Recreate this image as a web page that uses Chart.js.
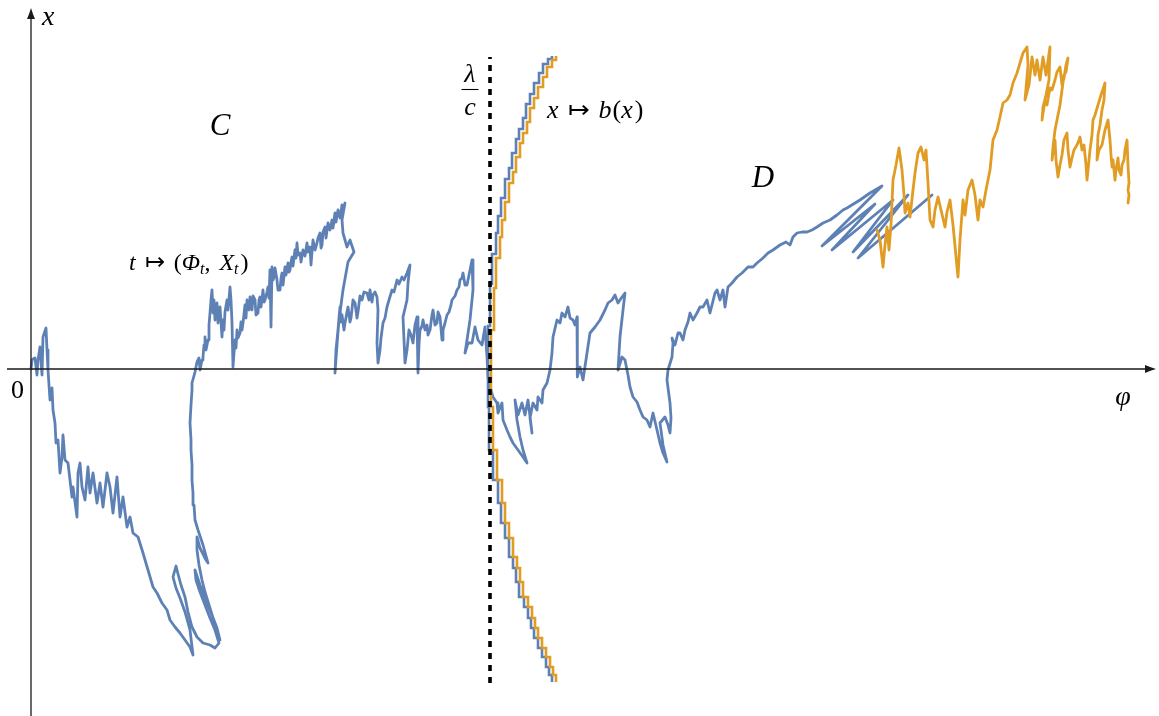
<!DOCTYPE html>
<html>
<head>
<meta charset="utf-8">
<script src="https://cdn.jsdelivr.net/npm/chart.js@4.4.0/dist/chart.umd.min.js"></script>
<style>
  html, body { margin: 0; padding: 0; background: #fff; overflow: hidden; }
  canvas { display: block; }
</style>
</head>
<body>
<canvas id="c" width="1159" height="716"></canvas>
<script>
// Sample path t -> (Phi_t, X_t), pairs [phi, x]; first stretch (blue)
const pathBlue = [
  [0.00,0.00],[0.01,0.09],[0.02,0.10],[0.04,0.11],[0.06,-0.06],[0.07,0.09],[0.09,0.22],[0.11,-0.06],
  [0.12,0.32],[0.15,0.41],[0.16,0.19],[0.17,-0.01],[0.19,-0.31],[0.21,-0.19],[0.22,-0.41],[0.24,-0.54],
  [0.25,-0.74],[0.27,-0.71],[0.29,-1.04],[0.31,-0.88],[0.32,-0.66],[0.34,-0.91],[0.37,-0.94],[0.41,-1.28],
  [0.42,-1.18],[0.46,-1.48],[0.47,-1.04],[0.49,-0.94],[0.51,-1.18],[0.54,-1.31],[0.57,-0.98],[0.59,-1.24],
  [0.62,-1.04],[0.66,-1.34],[0.69,-1.14],[0.72,-1.38],[0.76,-1.04],[0.79,-1.18],[0.82,-1.44],[0.86,-1.08],
  [0.89,-1.48],[0.92,-1.28],[0.96,-1.58],[0.99,-1.48],[1.02,-1.64],[1.07,-1.68],[1.12,-1.84],[1.17,-2.01],
  [1.22,-2.18],[1.26,-2.24],[1.31,-2.34],[1.36,-2.41],[1.39,-2.51],[1.44,-2.58],[1.49,-2.64],[1.54,-2.71],
  [1.59,-2.78],[1.62,-2.86],
  [1.59,-2.61],[1.54,-2.43],[1.49,-2.29],[1.45,-2.19],[1.42,-2.08],[1.45,-1.97],[1.47,-2.05],[1.50,-2.16],
  [1.54,-2.28],[1.57,-2.43],[1.61,-2.58],[1.66,-2.68],[1.72,-2.74],[1.79,-2.76],[1.84,-2.79],[1.88,-2.74],
  [1.84,-2.61],[1.79,-2.49],[1.74,-2.36],[1.69,-2.23],[1.65,-2.11],[1.64,-2.01],[1.69,-2.16],[1.75,-2.31],
  [1.81,-2.46],[1.86,-2.59],[1.89,-2.71],[1.86,-2.61],[1.82,-2.49],[1.78,-2.36],[1.74,-2.23],[1.71,-2.11],
  [1.68,-1.96],[1.66,-1.81],[1.66,-1.68],[1.69,-1.79],[1.75,-1.91],[1.77,-1.94],[1.72,-1.76],[1.67,-1.61],
  [1.64,-1.51],[1.63,-1.36],[1.62,-1.24],[1.61,-1.11],[1.61,-0.96],[1.60,-0.81],[1.60,-0.71],[1.59,-0.54],
  [1.60,-0.36],[1.61,-0.21],[1.61,-0.14],[1.64,-0.03],[1.66,0.07],[1.68,0.11],
  [1.69,-0.01],[1.71,0.09],[1.72,0.12],[1.73,0.24],[1.74,0.32],[1.75,0.19],[1.77,0.29],[1.78,0.44],
  [1.79,0.56],[1.80,0.69],[1.81,0.79],[1.82,0.56],[1.83,0.69],[1.84,0.49],[1.86,0.66],[1.87,0.46],
  [1.88,0.59],[1.89,0.62],[1.90,0.47],[1.91,0.32],[1.92,0.49],[1.93,0.39],[1.94,0.57],[1.96,0.69],
  [1.97,0.59],[1.99,0.82],[2.00,0.69],[2.01,0.46],[2.02,0.02],[2.03,0.16],[2.04,0.29],[2.05,0.21],
  [2.06,0.39],[2.07,0.31],[2.09,0.36],[2.10,0.47],[2.11,0.39],[2.12,0.46],
  [2.14,0.64],[2.15,0.51],[2.16,0.69],[2.18,0.59],[2.19,0.72],[2.20,0.63],[2.21,0.59],[2.22,0.73],
  [2.24,0.69],[2.25,0.54],[2.27,0.56],[2.28,0.69],[2.29,0.72],[2.30,0.62],[2.32,0.79],[2.33,0.67],
  [2.34,0.69],[2.36,0.77],[2.37,0.82],[2.38,0.71],[2.39,0.99],[2.40,0.42],[2.41,1.02],[2.42,0.89],
  [2.43,0.92],[2.44,1.01],[2.46,0.89],[2.47,0.79],[2.49,0.79],[2.50,0.91],[2.51,0.96],[2.52,0.84],
  [2.54,1.02],[2.55,0.94],[2.57,1.06],[2.58,0.97],[2.59,0.99],[2.60,1.07],[2.61,1.12],[2.62,1.03],
  [2.64,1.19],[2.65,1.11],[2.66,1.26],[2.67,1.14],[2.69,1.16],[2.70,1.07],[2.72,1.19],[2.74,1.13],
  [2.76,1.26],[2.77,1.17],[2.79,1.22],[2.80,1.04],[2.81,1.17],[2.82,1.29],[2.84,1.19],[2.86,1.26],
  [2.87,1.31],[2.89,1.36],[2.90,1.21],[2.91,1.24],[2.92,1.37],[2.94,1.42],[2.95,1.31],[2.97,1.46],
  [2.99,1.39],[3.01,1.49],[3.02,1.41],[3.04,1.56],[3.05,1.47],[3.07,1.59],[3.09,1.51],[3.11,1.64],
  [3.12,1.57],[3.14,1.66],
  [3.11,1.49],[3.12,1.36],[3.16,1.22],[3.19,1.29],[3.23,1.17],[3.17,1.07],[3.12,0.79],
  [3.08,0.49],[3.06,0.24],[3.04,-0.04],
  [3.05,0.19],[3.07,0.39],[3.08,0.51],[3.09,0.62],[3.10,0.47],[3.11,0.54],[3.13,0.39],[3.14,0.46],
  [3.16,0.57],[3.17,0.62],[3.19,0.47],[3.20,0.51],[3.22,0.69],[3.24,0.66],[3.26,0.51],[3.27,0.57],
  [3.29,0.73],[3.31,0.69],[3.33,0.77],[3.36,0.76],[3.38,0.69],[3.39,0.79],[3.41,0.67],[3.42,0.74],
  [3.44,0.77],[3.46,0.72],[3.47,0.59],[3.46,0.26],[3.47,0.06],[3.49,0.19],[3.50,0.31],[3.52,0.46],
  [3.54,0.51],[3.56,0.62],[3.58,0.69],[3.61,0.79],[3.63,0.77],[3.66,0.89],[3.68,0.85],[3.71,0.92],
  [3.73,0.89],[3.76,0.96],[3.79,1.04],[3.77,0.86],[3.76,0.69],[3.72,0.52],[3.73,0.29],[3.74,0.06],
  [3.76,0.19],[3.78,0.39],[3.80,0.34],[3.82,0.26],[3.84,0.44],[3.86,0.52],[3.87,-0.04],[3.88,0.24],
  [3.89,0.39],[3.91,0.43],[3.92,0.49],[3.94,0.39],[3.96,0.44],[3.97,0.34],[3.99,0.39],[4.01,0.54],
  [4.02,0.59],[4.04,0.44],[4.06,0.46],[4.07,0.57],[4.09,0.52],[4.11,0.29],[4.12,0.39],[4.14,0.46],
  [4.16,0.54],[4.18,0.57],[4.20,0.64],[4.21,0.69],[4.24,0.73],[4.26,0.79],[4.28,0.82],[4.29,0.89],
  [4.31,0.91],[4.32,0.96],[4.34,0.84],[4.36,0.84],[4.39,0.99],[4.41,1.09],[4.42,0.79],
  [4.39,0.49],[4.36,0.29],[4.34,0.16],[4.37,0.26],[4.41,0.26],[4.44,0.42],
  [4.47,0.29],[4.51,0.24],[4.54,0.42],[4.56,0.12],[4.57,-0.08],[4.59,-0.18],[4.62,-0.28],[4.66,-0.34],
  [4.67,-0.44],[4.71,-0.34],[4.72,-0.51],[4.76,-0.61],[4.79,-0.68],[4.82,-0.74],[4.87,-0.81],[4.92,-0.88],
  [4.96,-0.94],[4.92,-0.81],[4.89,-0.68],[4.86,-0.51],[4.84,-0.31],[4.87,-0.46],[4.91,-0.34],[4.94,-0.46],
  [4.97,-0.31],[5.01,-0.64],[4.99,-0.49],[5.02,-0.34],[5.06,-0.41],[5.07,-0.28],[5.11,-0.34],[5.12,-0.21],
  [5.16,-0.14],[5.19,-0.01],[5.21,0.16],[5.22,0.32],[5.26,0.49],[5.29,0.46],[5.31,0.56],[5.34,0.52],
  [5.37,0.62],[5.39,0.51],[5.42,0.49],[5.44,0.44],[5.46,0.52],[5.46,0.29],[5.46,0.12],[5.47,-0.08],
  [5.49,0.02],[5.52,-0.11],[5.56,0.16],[5.59,0.36],[5.64,0.42],[5.69,0.49],[5.74,0.59],[5.77,0.66],
  [5.81,0.69],[5.84,0.74],[5.87,0.66],[5.91,0.72],[5.94,0.76],[5.92,0.59],[5.89,0.32],[5.87,-0.01],
  [5.91,0.12],[5.94,0.09],[5.97,-0.06],[5.99,-0.18],[6.02,-0.28],[6.06,-0.33],[6.09,-0.41],[6.12,-0.48],
  [6.16,-0.51],[6.19,-0.58],[6.22,-0.44],[6.26,-0.61],[6.29,-0.74],[6.32,-0.84],[6.36,-0.93],[6.32,-0.76],
  [6.29,-0.54],[6.34,-0.48],[6.37,-0.56],[6.39,-0.64],[6.40,-0.49],[6.39,-0.34],[6.36,-0.11],[6.37,-0.01],
  [6.41,0.12],[6.42,0.26],[6.41,0.31],[6.44,0.24],[6.47,0.36],[6.49,0.36],[6.52,0.29],[6.54,0.39],
  [6.57,0.47],[6.59,0.56],[6.62,0.49],[6.66,0.56],[6.69,0.62],[6.72,0.62],[6.76,0.69],[6.79,0.56],
  [6.84,0.76],[6.86,0.79],[6.89,0.69],[6.92,0.79],[6.94,0.62],[6.97,0.82],[7.01,0.86],[7.06,0.92],
  [7.11,0.96],[7.17,1.02],[7.22,1.02],[7.26,1.06],[7.32,1.11],[7.37,1.16],[7.42,1.19],[7.49,1.24],
  [7.55,1.27],[7.59,1.24],[7.62,1.32],[7.66,1.36],[7.71,1.37],[7.76,1.37],[7.81,1.39],[7.86,1.42],
  [7.92,1.46],[7.99,1.49],[8.06,1.54],[8.12,1.59],[8.16,1.61],[8.29,1.69],[8.39,1.76],[8.51,1.83],
  [7.91,1.23],[8.44,1.65],[8.01,1.19],[8.62,1.69],[8.22,1.17],[8.77,1.74],[8.27,1.11],[9.01,1.74]
];

// Later stretch of the same kind of path (orange), pairs [phi, x]
const pathOrange = [
  [8.46,1.39],[8.49,1.29],[8.52,1.02],[8.54,1.24],[8.56,1.42],[8.58,1.19],[8.60,1.44],[8.62,1.89],
  [8.65,2.04],[8.68,2.21],[8.71,1.99],[8.73,1.74],[8.74,1.56],[8.77,1.66],[8.79,1.52],[8.82,1.79],
  [8.84,1.96],[8.87,2.16],[8.90,2.22],[8.93,2.09],[8.95,2.19],[8.97,1.86],[8.99,1.49],[9.02,1.42],
  [9.04,1.59],[9.07,1.72],[9.10,1.59],[9.14,1.42],[9.16,1.57],[9.19,1.69],[9.22,1.44],[9.26,1.02],
  [9.27,0.92],[9.29,1.29],[9.32,1.69],[9.34,1.54],[9.37,1.79],[9.41,1.89],[9.44,1.74],[9.47,1.49],
  [9.49,1.69],[9.52,1.62],[9.55,1.79],[9.59,1.99],[9.62,2.29],[9.66,2.39],[9.69,2.52],[9.72,2.66],
  [9.76,2.69],[9.79,2.74],[9.82,2.86],[9.86,2.96],[9.89,3.06],[9.92,3.16],[9.96,3.22],[9.97,3.04],
  [9.94,2.69],[9.98,2.84],[10.01,3.12],[10.04,2.94],[10.06,3.09],[10.09,2.89],[10.12,3.12],[10.15,2.94],
  [10.19,3.22],[10.18,2.89],[10.15,2.74],[10.12,2.62],[10.11,2.49],[10.14,2.69],[10.16,2.64],[10.19,2.81],
  [10.21,2.79],[10.24,2.89],[10.26,2.97],[10.29,3.02],[10.31,2.84],[10.33,2.91],[10.35,3.04],[10.37,3.11],
  [10.35,2.97],[10.33,2.94],[10.31,2.79],[10.29,2.64],[10.27,2.54],[10.24,2.39],[10.22,2.22],[10.21,2.09],
  [10.23,2.24],[10.24,2.29],[10.25,2.09],[10.27,1.92],[10.29,2.04],[10.31,2.14],[10.33,2.29],[10.36,2.36],
  [10.37,2.19],[10.39,2.02],[10.41,2.11],[10.43,2.19],[10.46,2.24],[10.48,2.29],[10.49,2.32],[10.51,2.19],
  [10.53,2.24],[10.55,2.04],[10.56,1.89],[10.58,2.09],[10.59,2.19],[10.61,2.34],[10.62,2.49],[10.64,2.54],
  [10.67,2.64],[10.70,2.74],[10.74,2.86],[10.73,2.69],[10.71,2.59],[10.69,2.44],[10.67,2.34],[10.66,2.09],
  [10.68,2.19],[10.71,2.24],[10.74,2.39],[10.77,2.49],[10.78,2.39],[10.79,2.29],[10.80,2.14],[10.81,2.02],
  [10.82,2.09],[10.84,1.89],[10.85,1.99],[10.87,2.11],[10.88,1.99],[10.90,1.94],[10.91,2.04],[10.93,2.09],
  [10.94,2.19],[10.96,2.29],[10.97,2.04],[10.98,1.86],[10.97,1.79],[10.98,1.74],[10.97,1.66]
];

// Boundary x -> b(x) as a step function: breakpoints in x and the phi value on each step
const bBreaksOrange = [-3.13,-3.06,-2.98,-2.88,-2.79,-2.69,-2.59,-2.49,-2.38,-2.28,-2.13,-1.99,-1.88,
  -1.69,-1.54,-1.34,-1.11,-0.81,-0.38,0.39,0.81,1.11,1.32,1.49,1.67,1.86,1.97,2.12,2.26,2.36,2.47,
  2.61,2.71,2.82,2.92,3.02,3.09,3.13];
const bLevelsOrange = [5.25,5.22,5.19,5.15,5.11,5.07,5.04,5.01,4.97,4.92,4.89,4.86,4.82,4.78,4.74,
  4.71,4.66,4.62,4.60,4.63,4.65,4.69,4.71,4.74,4.78,4.82,4.85,4.89,4.92,4.96,4.99,5.03,5.07,5.12,
  5.16,5.21,5.25];
const bBreaksBlue = [-3.13,-3.06,-2.98,-2.88,-2.79,-2.69,-2.59,-2.49,-2.38,-2.28,-2.13,-1.99,-1.88,
  -1.69,-1.54,-1.34,-1.11,-0.81,-0.38,0.43,0.85,1.15,1.36,1.53,1.71,1.90,2.01,2.16,2.30,2.40,2.51,
  2.65,2.75,2.86,2.96,3.05,3.10,3.13];
const bLevelsBlue = [5.21,5.18,5.15,5.11,5.07,5.03,5.00,4.97,4.93,4.88,4.85,4.82,4.78,4.74,4.70,
  4.67,4.62,4.58,4.57,4.59,4.61,4.65,4.67,4.70,4.74,4.78,4.81,4.85,4.88,4.92,4.95,4.99,5.03,5.08,
  5.12,5.17,5.21];

// Vertical reference line phi = lambda / c and its extent in x
const lambdaOverC = 4.59;
const refSpan = [-3.14, 3.12];

const BLUE = '#5E81B5';
const ORANGE = '#E19C24';
const SERIF = '"Liberation Serif", "Times New Roman", serif';

const toPoints = pairs => pairs.map(([x, y]) => ({ x, y }));

function stepCurve(breaks, levels) {
  const pts = [];
  for (let i = 0; i < levels.length; i++) {
    pts.push({ x: levels[i], y: breaks[i] });
    pts.push({ x: levels[i], y: breaks[i + 1] });
  }
  return pts;
}

const pathStyle = {
  showLine: true, pointRadius: 0, borderWidth: 2.8,
  borderJoinStyle: 'round', borderCapStyle: 'round', fill: false
};
const stepStyle = {
  showLine: true, pointRadius: 0, borderWidth: 2.6,
  borderJoinStyle: 'miter', borderCapStyle: 'butt', fill: false
};

// Axes with arrow heads, drawn through the scales
const axesPlugin = {
  id: 'axes',
  afterDatasetsDraw(chart, args, opts) {
    const { ctx, scales: { x, y } } = chart;
    const x0 = x.getPixelForValue(0), y0 = y.getPixelForValue(0);
    const hx1 = x.getPixelForValue(opts.phiFrom), hx2 = x.getPixelForValue(opts.phiTo);
    const vy1 = y.getPixelForValue(opts.xFrom), vy2 = y.getPixelForValue(opts.xTo);
    ctx.save();
    ctx.strokeStyle = '#1a1a1a';
    ctx.fillStyle = '#1a1a1a';
    ctx.lineWidth = 1.3;
    ctx.beginPath();
    ctx.moveTo(hx1, y0); ctx.lineTo(hx2 - 6, y0);
    ctx.moveTo(x0, vy1); ctx.lineTo(x0, vy2 + 6);
    ctx.stroke();
    const L = 11, W = 4;
    ctx.beginPath();
    ctx.moveTo(hx2, y0);
    ctx.quadraticCurveTo(hx2 - L * 0.5, y0 - W * 0.4, hx2 - L, y0 - W);
    ctx.lineTo(hx2 - L, y0 + W);
    ctx.quadraticCurveTo(hx2 - L * 0.5, y0 + W * 0.4, hx2, y0);
    ctx.fill();
    ctx.beginPath();
    ctx.moveTo(x0, vy2);
    ctx.quadraticCurveTo(x0 - W * 0.4, vy2 + L * 0.5, x0 - W, vy2 + L);
    ctx.lineTo(x0 + W, vy2 + L);
    ctx.quadraticCurveTo(x0 + W * 0.4, vy2 + L * 0.5, x0, vy2);
    ctx.fill();
    ctx.restore();
  }
};

function drawRuns(ctx, px, py, runs, baseSize) {
  let cx = px;
  for (const r of runs) {
    if (r.gap) { cx += r.gap; continue; }
    const size = r.size || baseSize;
    ctx.font = (r.it ? 'italic ' : '') + size + 'px ' + SERIF;
    ctx.fillText(r.t, cx, py + (r.dy || 0));
    cx += ctx.measureText(r.t).width;
  }
}

// Text annotations placed in data coordinates
const labelsPlugin = {
  id: 'labels',
  afterDraw(chart, args, opts) {
    const { ctx, scales: { x, y } } = chart;
    ctx.save();
    ctx.fillStyle = '#000';
    ctx.textBaseline = 'alphabetic';
    for (const l of opts.items) {
      const px = x.getPixelForValue(l.phi), py = y.getPixelForValue(l.x);
      if (l.runs) {
        ctx.textAlign = 'left';
        drawRuns(ctx, px, py, l.runs, l.size);
      } else if (l.frac) {
        ctx.textAlign = 'center';
        ctx.font = 'italic ' + l.size + 'px ' + SERIF;
        ctx.fillText(l.frac[0], px, y.getPixelForValue(l.numX));
        ctx.fillText(l.frac[1], px, y.getPixelForValue(l.denX));
        const by = Math.round(y.getPixelForValue(l.barX)) + 0.5;
        ctx.lineWidth = 1.1;
        ctx.strokeStyle = '#000';
        ctx.beginPath();
        ctx.moveTo(px - l.barW / 2, by); ctx.lineTo(px + l.barW / 2, by);
        ctx.stroke();
      } else {
        ctx.textAlign = l.align || 'center';
        ctx.font = (l.it ? 'italic ' : '') + l.size + 'px ' + SERIF;
        ctx.fillText(l.text, px, py);
      }
    }
    ctx.restore();
  }
};

new Chart(document.getElementById('c'), {
  type: 'scatter',
  data: {
    datasets: [
      { data: [{ x: lambdaOverC, y: refSpan[0] }, { x: lambdaOverC, y: refSpan[1] }],
        showLine: true, pointRadius: 0, borderColor: '#000', borderWidth: 3.6,
        borderDash: [6, 6], borderCapStyle: 'butt' },
      { ...stepStyle, data: stepCurve(bBreaksOrange, bLevelsOrange), borderColor: ORANGE },
      { ...stepStyle, data: stepCurve(bBreaksBlue, bLevelsBlue), borderColor: BLUE },
      { ...pathStyle, data: toPoints(pathOrange), borderColor: ORANGE },
      { ...pathStyle, data: toPoints(pathBlue), borderColor: BLUE }
    ]
  },
  options: {
    responsive: false,
    animation: false,
    devicePixelRatio: 1,
    layout: { padding: 0 },
    events: [],
    scales: {
      x: { type: 'linear', min: -0.31, max: 11.28, display: false },
      y: { type: 'linear', min: -3.47, max: 3.69, display: false }
    },
    plugins: {
      legend: { display: false },
      tooltip: { enabled: false },
      axes: { phiFrom: -0.24, phiTo: 11.25, xFrom: -3.47, xTo: 3.61 },
      labels: {
        items: [
          { text: 'x', it: true, size: 28, phi: 0.11, x: 3.44, align: 'left' },
          { text: '0', it: false, size: 26, phi: -0.135, x: -0.29 },
          { text: 'φ', it: true, size: 28, phi: 10.92, x: -0.36 },
          { text: 'C', it: true, size: 31, phi: 1.89, x: 2.34 },
          { text: 'D', it: true, size: 31, phi: 7.32, x: 1.82 },
          { phi: 0.98, x: 0.99, size: 24, runs: [
            { t: 't', it: true }, { gap: 9 }, { t: '↦' }, { gap: 9 }, { t: '(' },
            { t: 'Φ', it: true }, { t: 't', it: true, size: 16, dy: 4 }, { t: ',' }, { gap: 9 },
            { t: 'X', it: true }, { t: 't', it: true, size: 16, dy: 4 }, { gap: 2 }, { t: ')' } ] },
          { phi: 5.16, x: 2.51, size: 26, runs: [
            { t: 'x', it: true }, { gap: 9 }, { t: '↦' }, { gap: 9 }, { t: 'b', it: true },
            { gap: 1 }, { t: '(' }, { t: 'x', it: true }, { gap: 2 }, { t: ')' } ] },
          { phi: 4.39, size: 26, frac: ['λ', 'c'], numX: 2.87, denX: 2.54, barX: 2.80, barW: 17 }
        ]
      }
    }
  },
  plugins: [axesPlugin, labelsPlugin]
});
</script>
</body>
</html>
